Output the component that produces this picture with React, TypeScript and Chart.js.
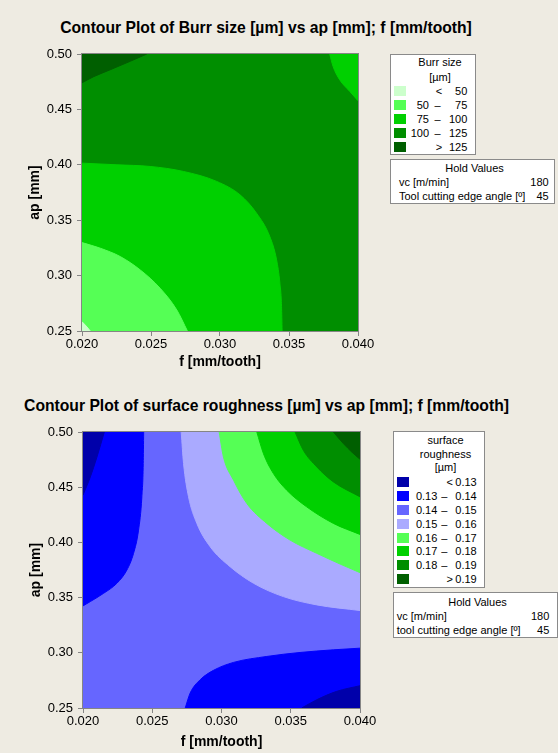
import React, { useEffect, useRef } from "react";
import { Chart, registerables } from "chart.js";

Chart.register(...registerables);

// ---------- axes ----------
const fTicks = [0.02, 0.025, 0.03, 0.035, 0.04];
const fTickLabels = ["0.020", "0.025", "0.030", "0.035", "0.040"];
const apTicks = [0.25, 0.3, 0.35, 0.4, 0.45, 0.5];
const apTickLabels = ["0.25", "0.30", "0.35", "0.40", "0.45", "0.50"];

// ---------- Burr size [µm] ----------
const burrLegendTitle = ["Burr size", "[µm]"];
const burrLegendLow = ["", "50", "75", "100", ""];
const burrLegendSym = ["<", "–", "–", "–", ">"];
const burrLegendHigh = ["50", "75", "100", "125", "125"];
const burrColors = ["#CCFFCC", "#55FF55", "#00D000", "#008E00", "#005F00"];

// contour boundaries as [f, ap]; band index into burrColors
const burrBand100to125All = [[0.02, 0.5], [0.04, 0.5]];
const burrBand75to100Low = [
  [0.02, 0.4015], [0.02253, 0.4], [0.02494, 0.3985], [0.02735, 0.394], [0.02976, 0.385],
  [0.03145, 0.3729], [0.03265, 0.3563], [0.03361, 0.3352], [0.0341, 0.3142],
  [0.03434, 0.2931], [0.03446, 0.272], [0.0345, 0.25],
];
const burrBand50to75 = [
  [0.02, 0.3298], [0.02133, 0.3247], [0.02277, 0.3172], [0.02422, 0.3051],
  [0.02566, 0.2886], [0.02687, 0.269], [0.02764, 0.25],
];
const burrBandLt50 = [[0.02, 0.2584], [0.0203, 0.2545], [0.0206, 0.25]];
const burrBandGt125 = [[0.02, 0.474], [0.02084, 0.4795], [0.02205, 0.4858], [0.02349, 0.4934], [0.0247, 0.5]];
const burrBand75to100High = [[0.03795, 0.5], [0.03819, 0.4889], [0.03867, 0.4768], [0.0394, 0.4663], [0.04, 0.4578]];

// ---------- surface roughness [µm] ----------
const roughLegendTitle = ["surface", "roughness", "[µm]"];
const roughLegendLow = ["", "0.13", "0.14", "0.15", "0.16", "0.17", "0.18", ""];
const roughLegendSym = ["<", "–", "–", "–", "–", "–", "–", ">"];
const roughLegendHigh = ["0.13", "0.14", "0.15", "0.16", "0.17", "0.18", "0.19", "0.19"];
const roughColors = ["#0000AA", "#0000FF", "#6666FF", "#AAAAFF", "#55FF55", "#00D000", "#008E00", "#005F00"];

const roughBand14to15All = [[0.02, 0.5], [0.04, 0.5]];
const roughBand13to14Left = [
  [0.02, 0.3425], [0.02053, 0.3464], [0.02149, 0.3539], [0.02245, 0.363], [0.02317, 0.375],
  [0.02365, 0.3901], [0.02401, 0.4111], [0.02425, 0.4413], [0.02435, 0.4714], [0.02438, 0.5],
];
const roughBandLt13Left = [[0.02, 0.4428], [0.02053, 0.4593], [0.02101, 0.4774], [0.02154, 0.5]];
const roughBand15to16 = [
  [0.02709, 0.5], [0.02726, 0.4714], [0.02762, 0.4413], [0.02822, 0.4172], [0.02918, 0.3961],
  [0.03062, 0.378], [0.03231, 0.363], [0.03447, 0.3509], [0.03688, 0.3434], [0.04, 0.3383],
];
const roughBand16to17 = [
  [0.02983, 0.5], [0.03014, 0.4774], [0.03087, 0.4563], [0.03183, 0.4352], [0.03327, 0.4172],
  [0.03495, 0.4021], [0.03688, 0.3901], [0.03856, 0.3804], [0.04, 0.3726],
];
const roughBand17to18 = [
  [0.03255, 0.5], [0.03303, 0.4804], [0.03375, 0.4623], [0.03471, 0.4473], [0.03615, 0.4322],
  [0.03808, 0.4172], [0.04, 0.4072],
];
const roughBand18to19 = [[0.03531, 0.5], [0.03591, 0.4834], [0.03688, 0.4684], [0.03808, 0.4548], [0.04, 0.4413]];
const roughBandGt19 = [[0.03808, 0.5], [0.0388, 0.4895], [0.0394, 0.4819], [0.04, 0.4753]];
const roughBand13to14Right = [
  [0.02738, 0.25], [0.02774, 0.2636], [0.02846, 0.2756], [0.02942, 0.2841], [0.03087, 0.2913],
  [0.03327, 0.2967], [0.03567, 0.3003], [0.03808, 0.3027], [0.04, 0.3042],
];
const roughBandLt13Right = [[0.03579, 0.25], [0.03688, 0.2575], [0.03832, 0.2651], [0.04, 0.2702]];

// paint order: first is bottom-most
const burrRegions = [
  { pts: burrBand100to125All, band: 3, fill: "start" },
  { pts: burrBand75to100Low, band: 2, fill: "start" },
  { pts: burrBand50to75, band: 1, fill: "start" },
  { pts: burrBandLt50, band: 0, fill: "start" },
  { pts: burrBandGt125, band: 4, fill: "end" },
  { pts: burrBand75to100High, band: 2, fill: "end" },
];
const roughRegions = [
  { pts: roughBand14to15All, band: 2, fill: "start" },
  { pts: roughBand13to14Left, band: 1, fill: "end" },
  { pts: roughBandLt13Left, band: 0, fill: "end" },
  { pts: roughBand15to16, band: 3, fill: "end" },
  { pts: roughBand16to17, band: 4, fill: "end" },
  { pts: roughBand17to18, band: 5, fill: "end" },
  { pts: roughBand18to19, band: 6, fill: "end" },
  { pts: roughBandGt19, band: 7, fill: "end" },
  { pts: roughBand13to14Right, band: 1, fill: "start" },
  { pts: roughBandLt13Right, band: 0, fill: "start" },
];

const FONT = '"Liberation Sans", Arial, sans-serif';
const BG = "#EEEBE2";

const framePlugin = {
  id: "frame",
  afterDraw(chart: any) {
    const { ctx, chartArea: a } = chart;
    ctx.save();
    ctx.strokeStyle = "#858585";
    ctx.lineWidth = 1;
    ctx.strokeRect(a.left - 0.5, a.top - 0.5, a.right - a.left + 1, a.bottom - a.top + 1);
    ctx.restore();
  },
};

type Area = { left: number; top: number; right: number; bottom: number };

function ContourChart(props: {
  regions: any[];
  colors: string[];
  top: number;
  width: number;
  height: number;
  area: Area;
  yTitleX: number;
  xTitleY: number;
}) {
  const ref = useRef<HTMLCanvasElement | null>(null);
  const { regions, colors, top, width, height, area, yTitleX, xTitleY } = props;
  useEffect(() => {
    if (!ref.current) return;
    const tickFont = { family: FONT, size: 13 };
    const titleFont = { family: FONT, size: 14, weight: "bold" as const, lineHeight: 1.2 };
    const grid = { display: true, drawOnChartArea: false, drawTicks: true, tickLength: 5, color: "#858585" };
    const datasets = regions
      .map((r) => ({
        data: r.pts.map((p: number[]) => ({ x: p[0], y: p[1] })),
        backgroundColor: colors[r.band],
        borderColor: colors[r.band],
        borderWidth: 1,
        fill: r.fill,
        pointRadius: 0,
        cubicInterpolationMode: "monotone",
        clip: 0,
      }))
      .reverse();
    const chart = new Chart(ref.current, {
      type: "line",
      data: { datasets } as any,
      options: {
        animation: false,
        responsive: false,
        maintainAspectRatio: false,
        events: [],
        layout: { padding: { left: 0, top: area.top, right: width - area.right, bottom: 0 } },
        scales: {
          x: {
            type: "linear",
            min: fTicks[0],
            max: fTicks[fTicks.length - 1],
            afterBuildTicks: (s: any) => {
              s.ticks = fTicks.map((v) => ({ value: v }));
            },
            afterFit: (s: any) => {
              s.height = height - area.bottom;
            },
            ticks: {
              callback: (_v: any, i: number) => fTickLabels[i],
              font: tickFont,
              color: "#000",
              padding: 1,
              maxRotation: 0,
              autoSkip: false,
            },
            grid,
            border: { display: false },
            title: {
              display: true,
              text: "f [mm/tooth]",
              font: titleFont,
              color: "#000",
              padding: { top: 0, bottom: height - xTitleY - 8.4 },
            },
          },
          y: {
            type: "linear",
            min: apTicks[0],
            max: apTicks[apTicks.length - 1],
            afterBuildTicks: (s: any) => {
              s.ticks = apTicks.map((v) => ({ value: v }));
            },
            afterFit: (s: any) => {
              s.width = area.left;
            },
            ticks: {
              callback: (_v: any, i: number) => apTickLabels[i],
              font: tickFont,
              color: "#000",
              padding: 5,
              autoSkip: false,
            },
            grid,
            border: { display: false },
            title: {
              display: true,
              text: "ap [mm]",
              font: titleFont,
              color: "#000",
              padding: { top: yTitleX - 8.4, bottom: 0 },
            },
          },
        },
        plugins: {
          legend: { display: false },
          tooltip: { enabled: false },
          title: { display: false },
        },
      } as any,
      plugins: [framePlugin],
    });
    return () => chart.destroy();
  }, []);
  return (
    <canvas
      ref={ref}
      width={width}
      height={height}
      style={{ position: "absolute", left: 0, top, width, height }}
    />
  );
}

function Txt(props: { x: number; y: number; align: "left" | "center" | "right"; children: any; size?: number; bold?: boolean }) {
  const { x, y, align, children, size = 11, bold } = props;
  const lh = 14;
  const style: any = {
    position: "absolute",
    top: y - lh / 2,
    lineHeight: lh + "px",
    fontSize: size,
    fontWeight: bold ? "bold" : "normal",
    whiteSpace: "nowrap",
  };
  if (align === "left") style.left = x;
  else if (align === "center") {
    style.left = x;
    style.transform = "translateX(-50%)";
  } else {
    style.right = `calc(100% - ${x}px)`;
  }
  return <div style={style}>{children}</div>;
}

function LegendBox(props: {
  left: number; top: number; width: number; height: number;
  titles: string[]; titleX: number; titleY0: number; titleStep: number;
  low: string[]; sym: string[]; high: string[]; colors: string[];
  rowY0: number; rowStep: number; swX: number; lowR: number; dashX: number; ltX: number; highR: number;
}) {
  const p = props;
  return (
    <div style={{ position: "absolute", left: p.left, top: p.top, width: p.width, height: p.height, boxSizing: "border-box", border: "1px solid #8a8a8a", background: "#fff" }}>
      <div style={{ position: "absolute", left: -1, top: -1, width: p.width, height: p.height }}>
        {p.titles.map((t, i) => (
          <Txt key={"t" + i} x={p.titleX} y={p.titleY0 + i * p.titleStep} align="center">{t}</Txt>
        ))}
        {p.colors.map((c, i) => {
          const cy = p.rowY0 + i * p.rowStep;
          const isEnd = p.low[i] === "";
          return (
            <React.Fragment key={"r" + i}>
              <div style={{ position: "absolute", left: p.swX, top: cy - 5, width: 12, height: 10, background: c }} />
              {p.low[i] !== "" && <Txt x={p.lowR} y={cy} align="right">{p.low[i]}</Txt>}
              <Txt x={isEnd ? p.ltX : p.dashX} y={cy} align="center">{p.sym[i]}</Txt>
              <Txt x={p.highR} y={cy} align="right">{p.high[i]}</Txt>
            </React.Fragment>
          );
        })}
      </div>
    </div>
  );
}

function HoldBox(props: { left: number; top: number; width: number; height: number; name0: string; name1: string; vals: string[]; padL: number; valR: number; y0: number }) {
  const p = props;
  return (
    <div style={{ position: "absolute", left: p.left, top: p.top, width: p.width, height: p.height, boxSizing: "border-box", border: "1px solid #8a8a8a", background: "#fff" }}>
      <div style={{ position: "absolute", left: -1, top: -1, width: p.width, height: p.height }}>
        <Txt x={p.width / 2 + 2} y={p.y0} align="center">Hold Values</Txt>
        <Txt x={p.padL} y={p.y0 + 14} align="left">{p.name0}</Txt>
        <Txt x={p.valR} y={p.y0 + 14} align="right">{p.vals[0]}</Txt>
        <Txt x={p.padL} y={p.y0 + 28} align="left">{p.name1}</Txt>
        <Txt x={p.valR} y={p.y0 + 28} align="right">{p.vals[1]}</Txt>
      </div>
    </div>
  );
}

const holdValues = ["180", "45"];

export default function App() {
  return (
    <div style={{ position: "fixed", left: 0, top: 0, width: 558, height: 753, background: BG, overflow: "hidden", fontFamily: FONT, color: "#000" }}>
      <div style={{ position: "absolute", left: 0, width: 532, top: 18, lineHeight: "20px", textAlign: "center", fontWeight: "bold", fontSize: 15.7, whiteSpace: "nowrap" }}>
        Contour Plot of Burr size [µm] vs ap [mm]; f [mm/tooth]
      </div>
      <div style={{ position: "absolute", left: 0, width: 533, top: 396, lineHeight: "20px", textAlign: "center", fontWeight: "bold", fontSize: 15.7, whiteSpace: "nowrap" }}>
        Contour Plot of surface roughness [µm] vs ap [mm]; f [mm/tooth]
      </div>
      <ContourChart regions={burrRegions} colors={burrColors} top={0} width={380} height={385}
        area={{ left: 82, top: 54, right: 358, bottom: 331 }} yTitleX={35.5} xTitleY={362} />
      <ContourChart regions={roughRegions} colors={roughColors} top={380} width={380} height={373}
        area={{ left: 83, top: 52, right: 360, bottom: 328 }} yTitleX={36} xTitleY={362.5} />
      <LegendBox left={390} top={54} width={86} height={101} titles={burrLegendTitle} titleX={50} titleY0={8} titleStep={14.5}
        low={burrLegendLow} sym={burrLegendSym} high={burrLegendHigh} colors={burrColors}
        rowY0={36.7} rowStep={14} swX={4} lowR={39} dashX={47.5} ltX={49} highR={77.3} />
      <HoldBox left={390} top={159} width={165} height={45} name0="vc [m/min]" name1="Tool cutting edge angle [º]" vals={holdValues} padL={9} valR={158.7} y0={8.7} />
      <LegendBox left={393} top={431} width={92} height={157} titles={roughLegendTitle} titleX={52.5} titleY0={9} titleStep={13.7}
        low={roughLegendLow} sym={roughLegendSym} high={roughLegendHigh} colors={roughColors}
        rowY0={50.7} rowStep={13.95} swX={4} lowR={44.3} dashX={51.2} ltX={56.8} highR={83.7} />
      <HoldBox left={393} top={592} width={165} height={46} name0="vc [m/min]" name1="tool cutting edge angle [º]" vals={holdValues} padL={3.7} valR={156.3} y0={9.7} />
    </div>
  );
}
